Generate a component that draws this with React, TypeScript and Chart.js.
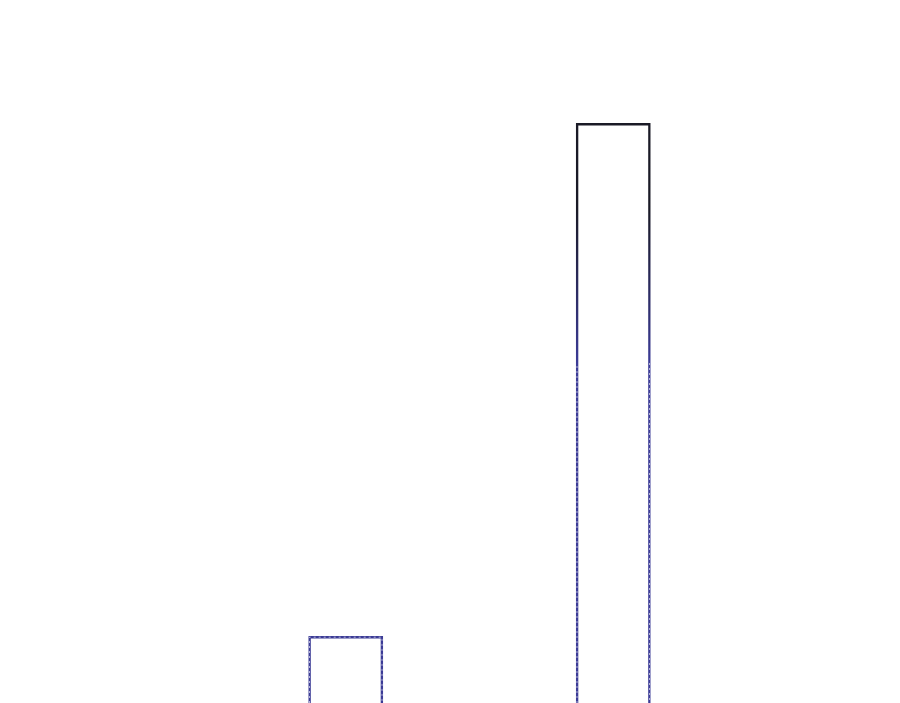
import React, { useEffect, useRef } from 'react';
import { Chart, registerables, ScriptableContext, Plugin } from 'chart.js';

Chart.register(...registerables);

// categories and values (axes are hidden in the reference)
const categories = ['A', 'B'];
const values = [37.2, 88.5];
const yMin = 0;
const yMax = 100;
// below this value the outline gets a light dashed stripe
const dashFrom = 64.5;

const darkBorder = '#1a1a26';
const blueBorder = '#3b3b96';

// light dashed stripe drawn along the lower part of each bar outline
const dashedEdge: Plugin<'bar'> = {
  id: 'dashedEdge',
  afterDatasetsDraw(chart) {
    const { ctx } = chart;
    const yScale = chart.scales.y;
    const limit = yScale.getPixelForValue(dashFrom);
    const bottom = chart.chartArea.bottom;
    chart.getDatasetMeta(0).data.forEach((el: any) => {
      const half = el.width / 2;
      const left = el.x - half + 1.2;
      const right = el.x + half - 1.2;
      const top = Math.max(el.y + 1.2, limit);
      ctx.save();
      ctx.strokeStyle = 'rgba(255,255,255,0.75)';
      ctx.lineWidth = 0.8;
      ctx.setLineDash([2, 3]);
      ctx.beginPath();
      ctx.moveTo(left, bottom);
      ctx.lineTo(left, top);
      if (el.y + 1.2 >= limit) ctx.lineTo(right, top);
      else ctx.moveTo(right, top);
      ctx.lineTo(right, bottom);
      ctx.stroke();
      ctx.restore();
    });
  },
};

export default function App() {
  const canvasRef = useRef<HTMLCanvasElement | null>(null);
  const chartRef = useRef<Chart | null>(null);

  useEffect(() => {
    if (!canvasRef.current) return;
    if (chartRef.current) chartRef.current.destroy();

    // border fades from near-black at the top to blue further down
    const borderColor = (ctx: ScriptableContext<'bar'>) => {
      const { chart } = ctx;
      if (!chart.chartArea) return blueBorder;
      const y = chart.scales.y;
      const g = chart.ctx.createLinearGradient(0, y.getPixelForValue(80), 0, y.getPixelForValue(dashFrom));
      g.addColorStop(0, darkBorder);
      g.addColorStop(1, blueBorder);
      return g;
    };

    chartRef.current = new Chart(canvasRef.current, {
      type: 'bar',
      data: {
        labels: categories,
        datasets: [
          {
            label: 'values',
            data: values,
            backgroundColor: 'rgba(255,255,255,0)',
            borderColor,
            borderWidth: 2.5,
            borderSkipped: false,
            categoryPercentage: 1,
            barPercentage: 0.28,
          },
        ],
      },
      options: {
        animation: false,
        responsive: true,
        maintainAspectRatio: false,
        layout: { padding: { left: 204, right: 145, top: 0, bottom: 0 } },
        plugins: {
          legend: { display: false },
          tooltip: { enabled: false },
        },
        scales: {
          x: { display: false },
          y: { display: false, min: yMin, max: yMax },
        },
      },
      plugins: [dashedEdge],
    });

    return () => {
      if (chartRef.current) {
        chartRef.current.destroy();
        chartRef.current = null;
      }
    };
  }, []);

  return (
    <div style={{ height: '1000px', position: 'relative' }}>
      <canvas ref={canvasRef} />
    </div>
  );
}
